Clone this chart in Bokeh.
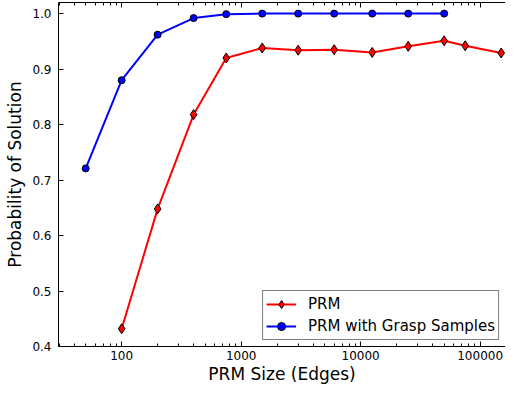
from bokeh.plotting import figure
from bokeh.models import LogAxis, FixedTicker, NumeralTickFormatter, Range1d
from bokeh.embed import file_html
from bokeh.resources import INLINE

# Data
prm_x = [100, 200, 400, 750, 1500, 3000, 6000, 12500, 25000, 50000, 75000, 150000]
prm_y = [0.432, 0.648, 0.818, 0.920, 0.938, 0.934, 0.935, 0.930, 0.941, 0.951, 0.942, 0.929]
grasp_x = [50, 100, 200, 400, 750, 1500, 3000, 6000, 12500, 25000, 50000]
grasp_y = [0.721, 0.880, 0.962, 0.992, 0.999, 1.0, 1.0, 1.0, 1.0, 1.0, 1.0]

x_major = [100, 1000, 10000, 100000]
x_minor = [m * 10 ** e for e in range(1, 6) for m in range(2, 10)]
y_ticks = [0.4, 0.5, 0.6, 0.7, 0.8, 0.9, 1.0]

FONT = "DejaVu Sans"

p = figure(width=505, height=386, x_axis_type="log",
           x_range=Range1d(29.6, 163000), y_range=Range1d(0.4, 1.02),
           output_backend="svg", toolbar_location=None,
           min_border_left=58, min_border_right=0, min_border_top=2,
           min_border_bottom=0)
p.outline_line_color = None
p.grid.visible = False
p.background_fill_color = "white"
p.border_fill_color = "white"

# bottom axis
xa = p.xaxis[0]
xa.ticker = FixedTicker(ticks=x_major, minor_ticks=x_minor)
xa.formatter = NumeralTickFormatter(format="0")
xa.axis_label = "PRM Size (Edges)"
xa.axis_label_text_font = FONT
xa.axis_label_text_font_style = "normal"
xa.axis_label_text_font_size = "17px"
xa.axis_label_text_color = "black"
xa.axis_label_standoff = 1
xa.major_label_text_font = FONT
xa.major_label_text_font_size = "12px"
xa.major_label_text_color = "black"
xa.major_label_standoff = 4
xa.major_tick_in = 5
xa.major_tick_out = 0
xa.minor_tick_in = 3
xa.minor_tick_out = 0
xa.axis_line_color = "black"
xa.major_tick_line_color = "black"
xa.minor_tick_line_color = "black"

# left axis
ya = p.yaxis[0]
ya.ticker = FixedTicker(ticks=y_ticks)
ya.formatter = NumeralTickFormatter(format="0.0")
ya.axis_label = "Probability of Solution"
ya.axis_label_text_font = FONT
ya.axis_label_text_font_style = "normal"
ya.axis_label_text_font_size = "17px"
ya.axis_label_text_color = "black"
ya.axis_label_standoff = 4
ya.major_label_text_font = FONT
ya.major_label_text_font_size = "12px"
ya.major_label_text_color = "black"
ya.major_label_standoff = 7
ya.major_tick_in = 5
ya.major_tick_out = 0
ya.minor_tick_line_color = None
ya.axis_line_color = "black"
ya.major_tick_line_color = "black"

# top axis (ticks only)
top = LogAxis(ticker=FixedTicker(ticks=x_major, minor_ticks=x_minor),
              major_label_overrides={t: "" for t in x_major},
              major_label_text_font_size="1px", major_label_standoff=0,
              major_tick_in=5, major_tick_out=0, minor_tick_in=3, minor_tick_out=0,
              axis_line_color="black", major_tick_line_color="black",
              minor_tick_line_color="black")
p.add_layout(top, "above")

# series
p.line(prm_x, prm_y, line_color="#ff0000", line_width=2, legend_label="PRM")
p.scatter(prm_x, prm_y, marker="diamond", size=10, fill_color="#ff0000",
          line_color="black", line_width=1, legend_label="PRM")
p.line(grasp_x, grasp_y, line_color="#0000ff", line_width=2,
       legend_label="PRM with Grasp Samples")
p.scatter(grasp_x, grasp_y, marker="circle", size=7, fill_color="#0000ff",
          line_color="black", line_width=1, legend_label="PRM with Grasp Samples")

lg = p.legend[0]
lg.location = "bottom_right"
lg.margin = 6
lg.padding = 3
lg.spacing = 2
lg.glyph_width = 30
lg.glyph_height = 20
lg.label_height = 20
lg.label_standoff = 12
lg.label_text_font = FONT
lg.label_text_font_size = "15px"
lg.label_text_color = "black"
lg.border_line_color = "black"
lg.border_line_width = 1
lg.background_fill_color = "white"
lg.background_fill_alpha = 1.0

open("out.html", "w").write(file_html(p, INLINE))
